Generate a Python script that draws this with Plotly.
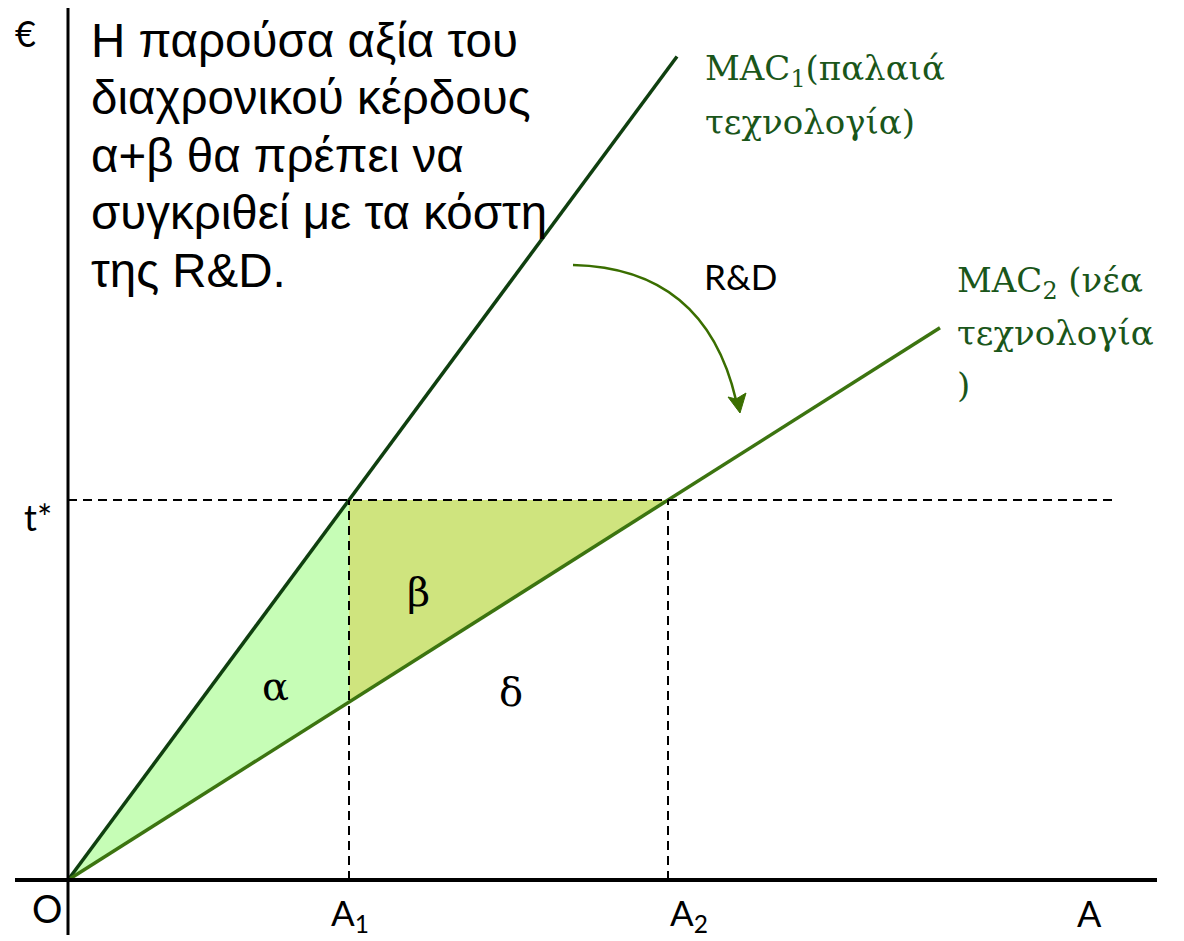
import plotly.graph_objects as go

# ---- data (units: origin O at (0,0)) ----
t_star = 380          # price level t*
A1 = 281              # abatement with old technology at t*
A2 = 600              # abatement with new technology at t*
mac1_x = [0, 609]
mac1_y = [0, 609 * t_star / A1]
mac2_x = [0, 872]
mac2_y = [0, 872 * t_star / A2]
x_axis_end = 1089
y_axis_top = 875
dash_end = 1050

s2 = t_star / A2
alpha_x = [0, A1, A1, 0]
alpha_y = [0, t_star, A1 * s2, 0]
beta_x = [A1, A2, A1, A1]
beta_y = [t_star, t_star, A1 * s2, t_star]

PAGE_W, PAGE_H = 1184, 941
OFF = 8                      # page body margin
W, H = PAGE_W - OFF, PAGE_H - OFF
OX, OY = 68, 880             # origin in page pixels


def P(px, py):
    return px - OX, OY - py


fig = go.Figure()
fig.add_trace(go.Scatter(x=alpha_x, y=alpha_y, fill="toself", fillcolor="#c6fdb6",
                         line=dict(width=0), mode="lines", hoverinfo="skip"))
fig.add_trace(go.Scatter(x=beta_x, y=beta_y, fill="toself", fillcolor="#cfe47e",
                         line=dict(width=0), mode="lines", hoverinfo="skip"))
fig.add_trace(go.Scatter(x=mac1_x, y=mac1_y, mode="lines",
                         line=dict(color="#0f3f0f", width=3.5), hoverinfo="skip"))
fig.add_trace(go.Scatter(x=mac2_x, y=mac2_y, mode="lines",
                         line=dict(color="#3c7410", width=3.5), hoverinfo="skip"))

shapes = []
# axes
shapes.append(dict(type="line", x0=0, x1=0, y0=-55, y1=y_axis_top, xref="x", yref="y",
                   line=dict(color="black", width=3)))
shapes.append(dict(type="line", x0=-53, x1=x_axis_end, y0=0, y1=0, xref="x", yref="y",
                   line=dict(color="black", width=4)))
# dashed guides
dash = dict(color="black", width=2, dash="9px,6px")
shapes.append(dict(type="line", x0=0, x1=dash_end, y0=t_star, y1=t_star, line=dash))
shapes.append(dict(type="line", x0=A1, x1=A1, y0=0, y1=t_star, line=dash))
shapes.append(dict(type="line", x0=A2, x1=A2, y0=0, y1=t_star, line=dash))
# R&D curved arrow
arrow_col = "#3a6e00"
sx, sy = P(573, 265)
cx, cy = P(705, 268)
ex, ey = P(736, 400)
shapes.append(dict(type="path", path=f"M {sx},{sy} Q {cx},{cy} {ex},{ey}",
                   line=dict(color=arrow_col, width=2.5)))
# arrow head (notched triangle)
tip = P(740, 413)
l = P(746, 393)
n = P(736, 399)
r = P(728, 397)
shapes.append(dict(type="path",
                   path=f"M {tip[0]},{tip[1]} L {l[0]},{l[1]} L {n[0]},{n[1]} L {r[0]},{r[1]} Z",
                   fillcolor=arrow_col, line=dict(color=arrow_col, width=1)))

ann = []


def text(px, py, s, size, family="Liberation Sans", color="black", xanchor="left", yanchor="middle"):
    x, y = P(px, py)
    ann.append(dict(x=x, y=y, text=s, showarrow=False, xanchor=xanchor, yanchor=yanchor,
                    font=dict(family=family, size=size, color=color)))


lines = ["Η παρούσα αξία του", "διαχρονικού κέρδους", "α+β θα πρέπει να",
         "συγκριθεί με τα κόστη", "της R&D."]
for i, s in enumerate(lines):
    text(89, 40 + 57.5 * i, s, 47.5)

text(25, 33, "€", 36, family="Lato", xanchor="center")
text(38, 517, "t*", 36, family="Lato", xanchor="center")
text(47, 908, "O", 38, family="Lato", xanchor="center")
text(350, 914, "A<sub>1</sub>", 35, family="Lato", xanchor="center")
text(689, 914, "A<sub>2</sub>", 35, family="Lato", xanchor="center")
text(1089, 913, "A", 36, family="Lato", xanchor="center")

serif = "DejaVu Serif"
g1 = "#1a561a"
text(703, 70, "MAC<sub>1</sub>(παλαιά", 34, family=serif, color=g1)
text(703, 122, "τεχνολογία)", 34, family=serif, color=g1)
text(955, 282, "MAC<sub>2</sub> (νέα", 34, family=serif, color=g1)
text(955, 333, "τεχνολογία", 34, family=serif, color=g1)
text(955, 385, ")", 34, family=serif, color=g1)
text(702, 276, "R&D", 35, family="Lato")

text(275, 686, "α", 40, family=serif, xanchor="center")
text(418, 592, "β", 40, family=serif, xanchor="center")
text(511, 692, "δ", 40, family=serif, xanchor="center")

fig.update_layout(
    width=W, height=H, autosize=False,
    margin=dict(l=0, r=0, t=0, b=0),
    paper_bgcolor="white", plot_bgcolor="white",
    showlegend=False,
    xaxis=dict(range=[OFF - OX, PAGE_W - OX], visible=False, fixedrange=True),
    yaxis=dict(range=[OY - PAGE_H, OY - OFF], visible=False, fixedrange=True),
    shapes=shapes, annotations=ann,
)
fig.write_html("out.html")
